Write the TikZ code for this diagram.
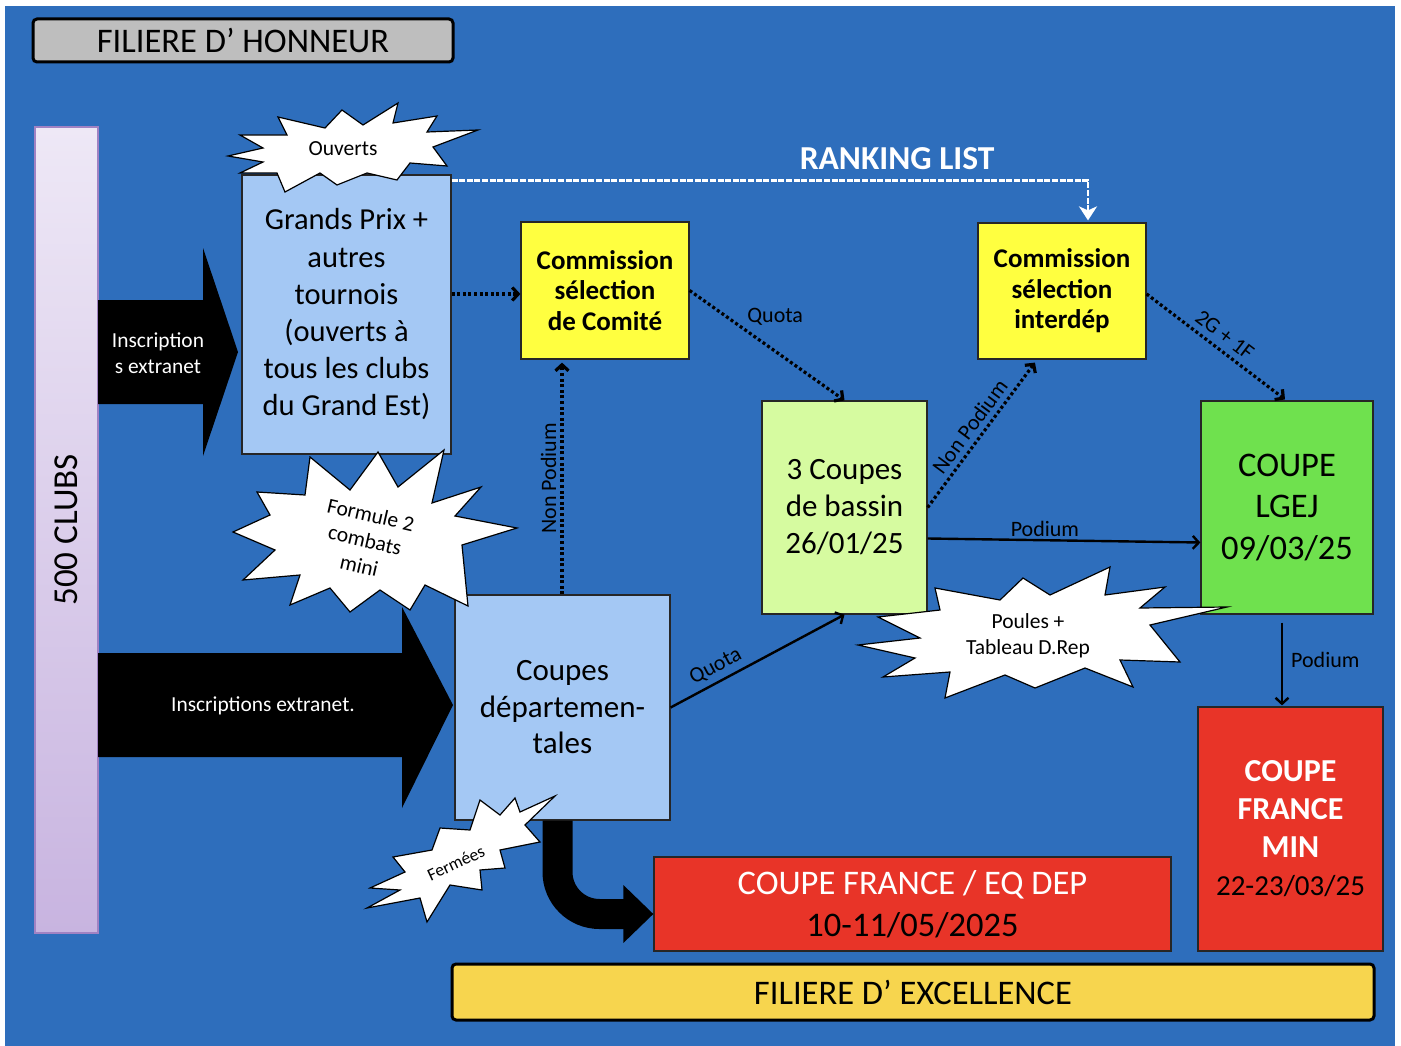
\documentclass[tikz,border=0pt]{standalone}
\usepackage{fontspec}
\setmainfont{Carlito}
\usetikzlibrary{arrows.meta,calc}
\definecolor{bgblue}{RGB}{46,110,188}
\definecolor{lblue}{RGB}{164,200,244}
\definecolor{cyellow}{RGB}{255,255,64}
\definecolor{lgreen}{RGB}{214,251,160}
\definecolor{dgreen}{RGB}{111,225,78}
\definecolor{cred}{RGB}{232,52,40}
\definecolor{tgrey}{RGB}{190,190,190}
\definecolor{eyellow}{RGB}{247,213,78}
\definecolor{clubtop}{RGB}{238,232,246}
\definecolor{clubbot}{RGB}{200,180,224}
\definecolor{clubedge}{RGB}{160,130,195}
\begin{document}
\begin{tikzpicture}[x=1pt,y=-1pt,
  box/.style={draw=black!85, line width=1.2pt, align=center, inner sep=0pt},
  banner/.style={draw=black, line width=3pt, rounded corners=4pt, inner sep=0pt},
  dotarrow/.style={line width=3.2pt, dash pattern=on 3pt off 2.6pt, -{Straight Barb[length=6pt,width=13pt]}},
  solidarrow/.style={line width=2.4pt, -{Straight Barb[length=6pt,width=13pt]}},
  lbl/.style={font=\fontsize{22}{25}\selectfont, inner sep=2pt},
  burst/.style={fill=white, draw=black, line width=1.2pt, line join=miter},
  bursttext/.style={align=center, inner sep=0pt},
  arrowtext/.style={text=white, align=center, inner sep=0pt, font=\fontsize{21.4}{26}\selectfont}]
\useasboundingbox (0,0) rectangle (1401,1046);
\fill[white] (0,0) rectangle (1401,1046);
\fill[bgblue] (5,6) rectangle (1395,1046);

% banners
\node[banner, fill=tgrey, minimum width=420pt, minimum height=43pt, font=\fontsize{34.5}{36}\selectfont] (honneur) at (243,40.5) {FILIERE D’ HONNEUR};
\node[banner, fill=eyellow, minimum width=922pt, minimum height=56pt, font=\fontsize{34.5}{36}\selectfont] (excellence) at (913,992) {FILIERE D’ EXCELLENCE};

% clubs bar
\node[draw=clubedge, line width=1.2pt, top color=clubtop, bottom color=clubbot, minimum width=63pt, minimum height=806pt, inner sep=0pt] (clubs) at (66.5,530) {};
\node[rotate=90, font=\fontsize{35}{38}\selectfont, inner sep=0pt] (clubstext) at (66.5,530) {500 CLUBS};

% boxes
\node[box, fill=lblue, minimum width=209pt, minimum height=279pt, font=\fontsize{30.5}{37.2}\selectfont] (gp) at (346.5,314.5) {Grands Prix +\\autres\\tournois\\(ouverts à\\tous les clubs\\du Grand Est)};
\node[box, fill=cyellow, minimum width=168pt, minimum height=137pt, font=\bfseries\fontsize{27}{30.5}\selectfont] (comite) at (605,290.5) {Commission\\sélection\\de Comité};
\node[box, fill=cyellow, minimum width=168pt, minimum height=136pt, font=\bfseries\fontsize{27}{30.5}\selectfont] (interdep) at (1062,291) {Commission\\sélection\\interdép};
\node[box, fill=lgreen, minimum width=165pt, minimum height=213pt, font=\fontsize{31}{37}\selectfont] (bassin) at (844.5,507.5) {3 Coupes\\de bassin\\26/01/25};
\node[box, fill=dgreen, minimum width=172pt, minimum height=213pt, font=\fontsize{34.5}{41.5}\selectfont] (lgej) at (1287,507.5) {COUPE\\LGEJ\\09/03/25};
\node[box, fill=lblue, minimum width=215pt, minimum height=225pt, font=\fontsize{31}{36.5}\selectfont] (dep) at (562.5,707.5) {Coupes\\départemen-\\tales};
\node[box, fill=cred, minimum width=517pt, minimum height=94pt, font=\fontsize{34.5}{42}\selectfont] (cfeq) at (912.5,904) {\textcolor{white}{COUPE FRANCE / EQ DEP}\\10-11/05/2025};
\node[box, fill=cred, minimum width=185pt, minimum height=244pt, font=\fontsize{29}{38}\selectfont] (cfmin) at (1290.5,829) {\textcolor{white}{\bfseries\fontsize{32}{38}\selectfont COUPE}\\\textcolor{white}{\bfseries\fontsize{32}{38}\selectfont FRANCE}\\\textcolor{white}{\bfseries\fontsize{32}{38}\selectfont MIN}\\22-23/03/25};

% big black arrows
\fill[black] (98,300) -- (203,300) -- (203,248) -- (238,352) -- (203,456) -- (203,404) -- (98,404) -- cycle;
\node[arrowtext] (inscr1) at (158,353) {Inscription\\s extranet};
\fill[black] (98,653) -- (402,653) -- (402,607) -- (453,705) -- (402,808) -- (402,757) -- (98,757) -- cycle;
\node[arrowtext] (inscr2) at (263,706) {Inscriptions extranet.};
\draw[line width=30pt, rounded corners=42pt, -{Triangle[length=30pt,width=56pt]}] ([xshift=-5pt]dep.south) |- ([yshift=-10pt]cfeq.west);

% ranking list
\draw[white, line width=2.5pt, dash pattern=on 6pt off 1.6pt, -{Stealth[length=14pt,width=18pt,inset=4pt]}]
  ([yshift=-6pt]gp.north east) -| ([xshift=26pt,yshift=2pt]interdep.north)
  node[pos=0.35, anchor=south, yshift=9pt, text=white, font=\bfseries\fontsize{33.5}{36}\selectfont, inner sep=0pt] (ranking) {RANKING LIST};

% connectors
\draw[dotarrow] (comite.west -| gp.east) ++(0pt,-3.5pt) -- ([yshift=-3.5pt]comite.west);
\draw[dotarrow] (comite.east) -- (bassin.north)
  node[lbl, pos=0.35, anchor=south west] (q1) {Quota};
\draw[dotarrow] ([xshift=-0.5pt]dep.north) -- ([xshift=-0.5pt, yshift=-3pt]dep.north |- comite.south)
  node[lbl, midway, rotate=90, anchor=south, inner sep=4pt] (np1) {Non Podium};
\draw[solidarrow] (dep.east) -- (bassin.south)
  node[lbl, pos=0.3, sloped, above=3pt] (q2) {Quota};
\draw[dotarrow] (bassin.east) -- ($(interdep.south west)!0.34!(interdep.south east)+(0,3)$)
  node[lbl, midway, sloped, above=3pt] (np2) {Non Podium};
\draw[solidarrow] ($(bassin.east)+(0,31)$) -- ($(lgej.west)+(0,35)$)
  node[lbl, pos=0.43, above] (pod1) {Podium};
\draw[dotarrow] ($(interdep.east)+(0,3)$) -- ($(lgej.north)+(-2,-1)$)
  node[lbl, midway, sloped, above=4pt] (g2f) {2G + 1F};
\draw[solidarrow, shorten <=8pt] ([xshift=-5pt]lgej.south) -- ([xshift=-5pt,yshift=1pt]lgej.south |- cfmin.north)
  node[lbl, midway, right=6pt] (pod2) {Podium};

% bursts
\filldraw[burst] (228,156) -- (263,148) -- (240,135) -- (287,135) -- (278,117) -- (325,128) -- (342,110) -- (363,125) -- (398,103) -- (393,123) -- (437,116) -- (427,132) -- (478,130) -- (433,147) -- (447,166) -- (410,163) -- (397,180) -- (367,173) -- (337,185) -- (320,173) -- (285,192) -- (277,173) -- (240,173) -- (263,162) -- cycle;
\node[bursttext, font=\fontsize{21.5}{24}\selectfont] (ouverts) at (343,149) {Ouverts};

\filldraw[burst] (310,457) -- (350,490) -- (378,452) -- (398,487) -- (444,450) -- (432,503) -- (481,487) -- (455,516) -- (517,528) -- (462,545) -- (468,606) -- (425,585) -- (410,610) -- (380,590) -- (350,612) -- (330,588) -- (290,605) -- (300,575) -- (243,580) -- (275,550) -- (233,532) -- (270,515) -- (257,492) -- (305,495) -- cycle;
\node[bursttext, rotate=-13, font=\fontsize{21.5}{26}\selectfont] (formule) at (365,540) {Formule 2\\combats\\mini};

\filldraw[burst] (858,645) -- (920,638) -- (878,617) -- (940,610) -- (935,588) -- (1000,600) -- (1023,578) -- (1050,595) -- (1110,567) -- (1105,595) -- (1165,587) -- (1140,608) -- (1227,607) -- (1150,625) -- (1180,662) -- (1120,660) -- (1133,687) -- (1085,668) -- (1035,688) -- (1005,675) -- (945,698) -- (950,672) -- (883,677) -- (915,658) -- cycle;
\node[bursttext, font=\fontsize{21.5}{26}\selectfont] (poules) at (1028,636) {Poules +\\Tableau D.Rep};

\filldraw[burst] (367,908) -- (400,890) -- (370,888) -- (405,872) -- (393,857) -- (432,850) -- (440,828) -- (470,830) -- (480,800) -- (500,815) -- (515,798) -- (520,812) -- (555,796) -- (525,825) -- (540,842) -- (500,850) -- (505,868) -- (480,870) -- (482,890) -- (450,885) -- (427,922) -- (420,898) -- cycle;
\node[bursttext, rotate=25, font=\fontsize{17.5}{20}\selectfont] (fermees) at (456,863) {Fermées};
\end{tikzpicture}
\end{document}
